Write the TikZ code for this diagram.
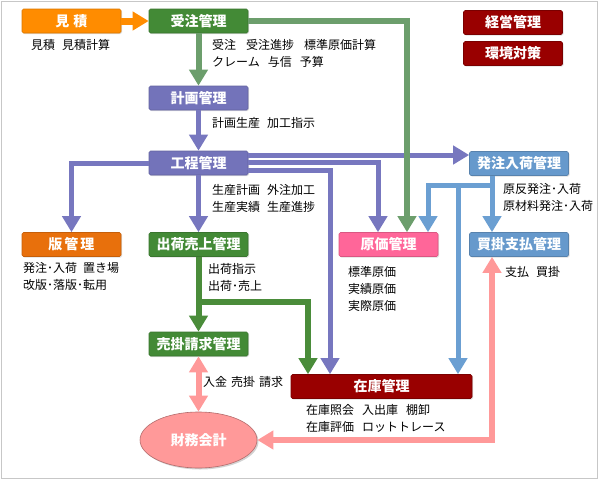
\documentclass[tikz,border=0pt]{standalone}
\usepackage{fontspec}
\setmainfont{Noto Sans CJK JP}
\usetikzlibrary{arrows.meta,shapes.geometric,shadows}
\definecolor{orA}{HTML}{FF8C00}
\definecolor{orB}{HTML}{E8700C}
\definecolor{grBox}{HTML}{438A36}
\definecolor{grLine}{HTML}{6C9E6C}
\definecolor{grDark}{HTML}{4A8C3A}
\definecolor{puBox}{HTML}{7373BA}
\definecolor{puLine}{HTML}{7777BF}
\definecolor{pkBox}{HTML}{FF6699}
\definecolor{pkLine}{HTML}{FF9999}
\definecolor{blBox}{HTML}{6699CC}
\definecolor{blLine}{HTML}{6B9FD2}
\definecolor{rdBox}{HTML}{990000}
\tikzset{
  kanri/.style = {rectangle, rounded corners=1.5pt, minimum width=99pt,
    minimum height=24pt, inner sep=0pt, text=white, line width=0.6pt,
    font=\fontsize{14}{14}\selectfont\bfseries,
    drop shadow={shadow xshift=1pt, shadow yshift=-1pt, opacity=0.25}},% boite
  kanri_o/.style = {kanri, fill=orA, draw=orA!85!black},% orange
  kanri_h/.style = {kanri, fill=orB, draw=orB!85!black},% orange fonce
  kanri_g/.style = {kanri, fill=grBox, draw=grBox!85!black},% vert
  kanri_p/.style = {kanri, fill=puBox, draw=puBox!85!black},% violet
  kanri_k/.style = {kanri, fill=pkBox, draw=pkBox!85!black},% rose
  kanri_b/.style = {kanri, fill=blBox, draw=blBox!85!black},% bleu
  kanri_r/.style = {kanri, fill=rdBox, draw=rdBox!80!black},% rouge
  memo/.style = {anchor=west, inner sep=0pt, align=left,
    font=\fontsize{12}{17}\selectfont},% texte noir
  fl_o/.style = {draw=orA, line width=7pt},
  fl_g/.style = {draw=grLine, line width=6pt},
  fl_d/.style = {draw=grDark, line width=6pt},
  fl_p/.style = {draw=puLine, line width=5pt},
  fl_b/.style = {draw=blLine, line width=5pt},
  fl_k/.style = {draw=pkLine, line width=6pt}
}
\begin{document}
\begin{tikzpicture}[x=1pt,y=-1pt,->,>={Triangle[width=18pt,length=16pt]}]
\useasboundingbox (0,0) rectangle (598,480);
\draw[-, draw=black!22, line width=1pt] (1,1) rectangle (597,478);

% boites
\node [kanri_o] (mitsumori) at (71.5,21)   {見\hspace{4pt}積};
\node [kanri_g] (juchu)     at (198.5,21)  {受注管理};
\node [kanri_p] (keikaku)   at (198.5,98)  {計画管理};
\node [kanri_p] (kotei)     at (198.5,163) {工程管理};
\node [kanri_h] (han)       at (71.5,244.5) {版\hspace{2pt}管\hspace{2pt}理};
\node [kanri_g] (shukka)    at (198.5,244.5) {出荷売上管理};
\node [kanri_k] (genka)     at (388.5,244.5) {原価管理};
\node [kanri_b] (hatchu)    at (519,163.5) {発注入荷管理};
\node [kanri_b] (kaikake)   at (519,244.5) {買掛支払管理};
\node [kanri_g] (urikake)   at (198.5,344) {売掛請求管理};
\node [kanri_r, minimum width=181pt] (zaiko) at (381.5,386.5) {在庫管理};
\node [kanri_r] (keiei)     at (513,22.5)  {経営管理};
\node [kanri_r] (kankyo)    at (513,53.5)  {環境対策};
\node [ellipse, fill=pkLine, draw=pkLine!70!black, line width=0.6pt,
  minimum width=117pt, minimum height=56pt, inner sep=0pt, text=white,
  font=\fontsize{14}{14}\selectfont\bfseries,
  drop shadow={shadow xshift=1.5pt, shadow yshift=-1.5pt, opacity=0.35}]
  (zaimu) at (198.5,440) {財務会計};

% textes
\node [memo] (m_mitsumori) at (31,45) {見積\hspace{7pt}見積計算};
\node [memo] (m_juchu) at (212,53.5) {受注\hspace{10pt}受注進捗\hspace{10pt}標準原価計算\\クレーム\hspace{8pt}与信\hspace{8pt}予算};
\node [memo] (m_keikaku) at (212,122.5) {計画生産\hspace{7pt}加工指示};
\node [memo] (m_kotei) at (212,198.5) {生産計画\hspace{7pt}外注加工\\生産実績\hspace{7pt}生産進捗};
\node [memo] (m_han) at (23,276.5) {発注･入荷\hspace{6pt}置き場\\改版･落版･転用};
\node [memo] (m_shukka) at (208,277.5) {出荷指示\\出荷･売上};
\node [memo] (m_genka) at (348,288.5) {標準原価\\実績原価\\実際原価};
\node [memo] (m_hatchu) at (503,197.5) {原反発注･入荷\\原材料発注･入荷};
\node [memo] (m_kaikake) at (505,272) {支払\hspace{7pt}買掛};
\node [memo] (m_urikake) at (203,382) {入金\hspace{4pt}売掛\hspace{4pt}請求};
\node [memo] (m_zaiko) at (306,418) {在庫照会\hspace{8pt}入出庫\hspace{8pt}棚卸\\在庫評価\hspace{8pt}ロットトレース};

% fleches
\draw [fl_o] (mitsumori.east) -- (juchu.west);
\draw [fl_g] (juchu.south) -- (keikaku.north);
\draw [fl_p] (keikaku.south) -- (kotei.north);
\draw [fl_p] (kotei.west) -| (han.north);
\draw [fl_p] (kotei.south) -- (shukka.north);
\draw [fl_p] ([yshift=8pt]kotei.east) -- ([yshift=8pt]kotei.east -| hatchu.west);
\draw [fl_p] ([yshift=1pt]kotei.east) -| ([xshift=-10.5pt]genka.north);
\draw [fl_p] ([yshift=-7pt]kotei.east) -| ([xshift=-51.5pt]zaiko.north);
\draw [fl_g] (juchu.east) -| ([xshift=18.5pt]genka.north);
\coordinate (branch_g) at (198.5,302);
\draw [fl_d] (shukka.south) -- (urikake.north);
\draw [fl_d, -] (shukka.south) -- (branch_g);
\draw [fl_d] (branch_g) -| ([xshift=-73.5pt]zaiko.north);
\coordinate (branch_b) at (492,185);
\draw [fl_b] ([xshift=-27pt]hatchu.south) -- ([xshift=-27pt]kaikake.north);
\draw [fl_b] (branch_b) -| ([xshift=39.5pt]genka.north);
\draw [fl_b] (branch_b -| zaiko.north) ++(76.5,0) -- ([xshift=76.5pt]zaiko.north);
\draw [fl_k, <->] (urikake.south) -- (zaimu.north);
\draw [fl_k, <->] (zaimu.east) -| ([xshift=-27pt]kaikake.south);
\end{tikzpicture}
\end{document}
